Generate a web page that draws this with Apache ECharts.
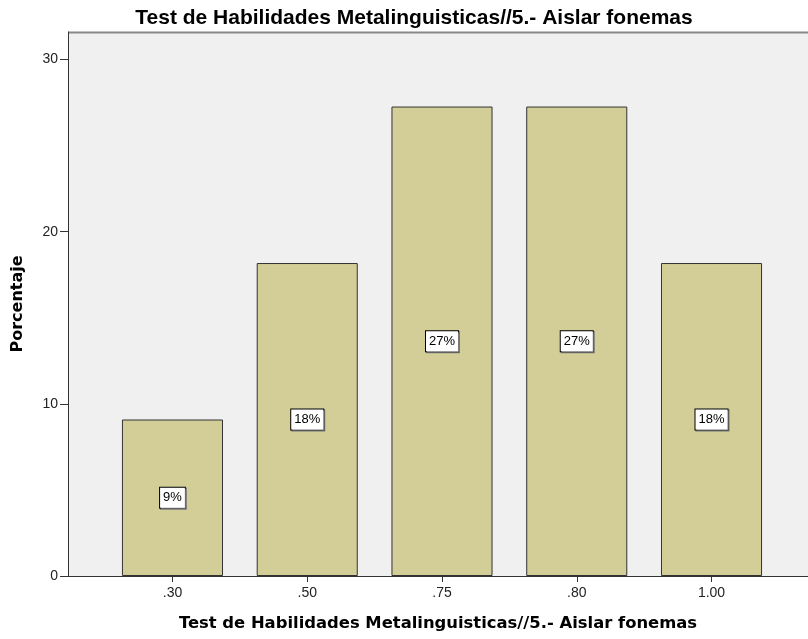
<!DOCTYPE html>
<html><head><meta charset="utf-8">
<script src="https://cdn.jsdelivr.net/npm/echarts@6/dist/echarts.min.js"></script>
<style>html,body{margin:0;padding:0;background:#fff}#c{width:808px;height:639px}</style>
</head><body><div id="c"></div>
<script>
var categories = ['.30', '.50', '.75', '.80', '1.00'];
var percentages = [9.09, 18.18, 27.27, 27.27, 18.18];
var yTicks = [0, 10, 20, 30];
var titleText = 'Test de Habilidades Metalinguisticas//5.- Aislar fonemas';
var yAxisTitle = 'Porcentaje';

var chart = echarts.init(document.getElementById('c'));
var sans = 'Liberation Sans, Arial, sans-serif';
var dejavu = 'DejaVu Sans, sans-serif';
chart.setOption({
  animation: false,
  title: {text: titleText, left: 409, textAlign: 'center', top: 3,
    textStyle: {fontFamily: sans, fontSize: 21, fontWeight: 'bold', color: '#000'}},
  grid: [
    {left: 68, right: 0, top: 32, bottom: 63, show: true, backgroundColor: '#F0F0F0', borderWidth: 0},
    {left: 105.1, right: 29.1, top: 32, bottom: 63, show: false}
  ],
  xAxis: [
    {gridIndex: 0, type: 'value', min: 0, max: 1, axisLabel: {show: false}, axisTick: {show: false},
      splitLine: {show: false}, axisLine: {show: true, onZero: false, lineStyle: {color: '#333', width: 1}},
      name: titleText, nameLocation: 'middle', nameGap: 40,
      nameTextStyle: {fontFamily: dejavu, fontSize: 16.4, fontWeight: 'bold', color: '#000'}},
    {gridIndex: 1, type: 'category', data: categories, boundaryGap: true,
      axisLine: {show: false}, axisTick: {show: true, alignWithLabel: true, length: 6, lineStyle: {color: '#333'}},
      axisLabel: {fontFamily: sans, fontSize: 14, color: '#222', margin: 10}}
  ],
  yAxis: [
    {gridIndex: 0, type: 'value', min: 0, max: 31.6, interval: 10,
      axisLine: {show: true, lineStyle: {color: '#333'}},
      axisTick: {show: true, length: 8, lineStyle: {color: '#333'}, customValues: yTicks},
      splitLine: {show: false},
      axisLabel: {fontFamily: sans, fontSize: 14, color: '#222', margin: 10, customValues: yTicks},
      name: yAxisTitle, nameLocation: 'middle', nameGap: 42, nameRotate: 90,
      nameTextStyle: {fontFamily: dejavu, fontSize: 16, fontWeight: 'bold', color: '#000'}},
    {gridIndex: 1, type: 'value', min: 0, max: 31.6, show: false}
  ],
  graphic: [{type: 'line', shape: {x1: 68, y1: 32.5, x2: 808, y2: 32.5}, style: {stroke: '#888', lineWidth: 2}, silent: true}],
  series: [{
    type: 'bar', xAxisIndex: 1, yAxisIndex: 1, data: percentages, barWidth: '75%',
    itemStyle: {color: '#D3CE97', borderColor: '#333', borderWidth: 1},
    label: {show: true, position: 'inside', formatter: function(p){return Math.round(p.value) + '%';},
      fontFamily: sans, fontSize: 13, color: '#000', backgroundColor: '#fff', borderColor: '#000', borderWidth: 1,
      padding: [4, 3, 3, 3], shadowColor: '#777', shadowOffsetX: 1, shadowOffsetY: 1, shadowBlur: 0}
  }]
});
</script></body></html>
